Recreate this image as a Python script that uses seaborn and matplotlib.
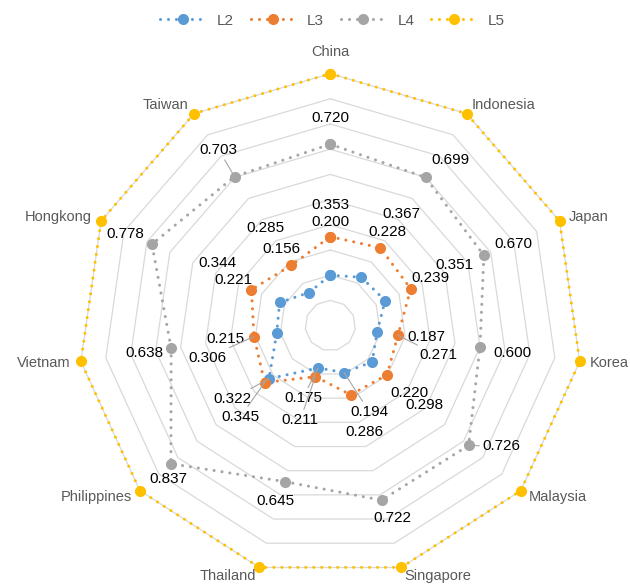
import numpy as np
import matplotlib
matplotlib.use("Agg")
import matplotlib.pyplot as plt
import seaborn as sns

# data
countries = ["China", "Indonesia", "Japan", "Korea", "Malaysia", "Singapore",
             "Thailand", "Philippines", "Vietnam", "Hongkong", "Taiwan"]
l2 = [0.200, 0.228, 0.239, 0.187, 0.220, 0.194, 0.175, 0.322, 0.215, 0.221, 0.156]
l3 = [0.353, 0.367, 0.351, 0.271, 0.298, 0.286, 0.211, 0.345, 0.306, 0.344, 0.285]
l4 = [0.720, 0.699, 0.670, 0.600, 0.726, 0.722, 0.645, 0.837, 0.638, 0.778, 0.703]
l5 = [1.0] * 11
series_names = ["L2", "L3", "L4", "L5"]

colors = ["#5B9BD5", "#ED7D31", "#A5A5A5", "#FFC000"]

# label offsets in pixels (right, down) for the value labels
off_l2 = [(0, -53), (26, -45), (45, -23), (49, 5), (37, 31), (25, 39),
          (-15, 30), (-37, 20), (-51, 6), (-46, -22), (-28, -44)]
off_l3 = [(0, -32), (21, -34), (44, -24), (40, 20), (37, 30), (14, 37),
          (-15, 43), (-24, 34), (-47, 21), (-34, -27), (-26, -37)]
off_l4 = [(0, -26), (25, -17), (29, -11), (32, 6), (33, 1), (11, 18),
          (-9, 19), (-3, 15), (-27, 5), (-27, -10), (-16, -27)]
leaders = {("L4", "Taiwan"), ("L4", "Malaysia"), ("L3", "Korea"), ("L3", "Vietnam"),
           ("L3", "Philippines"), ("L3", "Thailand"), ("L2", "Philippines"),
           ("L2", "Thailand"), ("L2", "Singapore")}

sns.set_style("white")
plt.rcParams["font.family"] = ["Liberation Sans", "DejaVu Sans"]

fig = plt.figure(figsize=(6.3, 5.86), dpi=100)
ax = fig.add_axes([0.1243, 0.0143, 0.8, 0.8601], projection="polar")
ax.set_theta_offset(np.pi / 2)
ax.set_theta_direction(-1)

n = len(countries)
theta = np.linspace(0, 2 * np.pi, n, endpoint=False)
theta_c = np.append(theta, theta[0] + 2 * np.pi)

# polygon grid
for r in np.arange(0.1, 1.01, 0.1):
    ax.plot(theta_c, [r] * (n + 1), color="#D9D9D9", lw=0.9, zorder=1)

all_vals = [l2, l3, l4, l5]
handles = []
for name, vals, col in zip(series_names, all_vals, colors):
    vc = list(vals) + [vals[0]]
    sns.lineplot(x=theta_c, y=vc, ax=ax, sort=False, estimator=None, color=col,
                 marker="o", markersize=8, markeredgewidth=0, lw=2.2, zorder=3)
    line = ax.lines[-1]
    line.set_dashes((0.01, 2.6))
    line.set_dash_capstyle("round")
    line.set_clip_on(False)
    handles.append(line)

# value labels
for name, vals, offs in zip(["L2", "L3", "L4"], [l2, l3, l4], [off_l2, off_l3, off_l4]):
    for i, (v, (dx, dy)) in enumerate(zip(vals, offs)):
        kw = {}
        if (name, countries[i]) in leaders:
            kw["arrowprops"] = dict(arrowstyle="-", color="#A6A6A6", lw=0.8,
                                    shrinkA=0, shrinkB=0)
        ax.annotate(f"{v:.3f}", xy=(theta[i], v), xytext=(dx * 0.72, -dy * 0.72),
                    textcoords="offset points", ha="center", va="center",
                    fontsize=11, color="black", zorder=5, **kw)

# category labels
for i, c in enumerate(countries):
    s, co = np.sin(theta[i]), np.cos(theta[i])
    ha = "left" if s > 0.1 else ("right" if s < -0.1 else "center")
    dx, dy = 10 * s, 10 * co
    if co > 0.9:
        dy = 22
    elif co < -0.9:
        dy = -9
    ax.annotate(c, xy=(theta[i], 1.0), xytext=(dx * 0.72, dy * 0.72),
                textcoords="offset points", ha=ha, va="center",
                fontsize=10.5, color="#595959")

ax.set_ylim(0, 1)
ax.set_xticks([])
ax.set_yticks([])
ax.set_xlabel("")
ax.set_ylabel("")
ax.grid(False)
ax.spines["polar"].set_visible(False)
if ax.get_legend():
    ax.get_legend().remove()

fig.legend(handles, series_names, loc="upper center", bbox_to_anchor=(0.528, 1.0),
           ncol=4, frameon=False, fontsize=11, labelcolor="#595959",
           handlelength=2.9, columnspacing=1.1, handletextpad=0.8)

fig.savefig("out.png", dpi=100)
